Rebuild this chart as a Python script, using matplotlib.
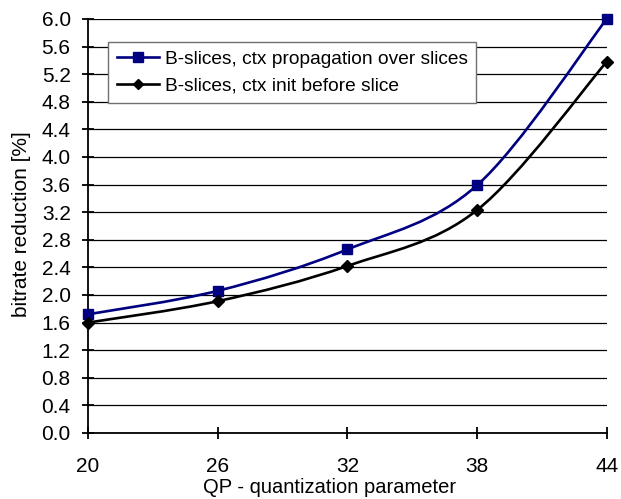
"""Bitrate reduction vs QP for B-slices, two context-handling variants."""
import numpy as np
import matplotlib
matplotlib.use("Agg")
import matplotlib.pyplot as plt
from matplotlib.path import Path
from matplotlib.patches import PathPatch

qp = [20, 26, 32, 38, 44]
ctx_propagation = [1.72, 2.06, 2.66, 3.59, 6.0]
ctx_init = [1.60, 1.91, 2.42, 3.23, 5.38]

labels = [
    "B-slices, ctx propagation over slices",
    "B-slices, ctx init before slice",
]
y_ticks = [round(0.4 * i, 1) for i in range(16)]
x_ticks = qp

plt.rcParams["font.family"] = ["Liberation Sans", "DejaVu Sans"]


def smooth_path(xs, ys):
    """Excel-like smoothed line: Catmull-Rom tangents as cubic Bezier handles."""
    pts = np.column_stack([np.asarray(xs, float), np.asarray(ys, float)])
    n = len(pts)
    verts = [pts[0]]
    codes = [Path.MOVETO]
    for i in range(n - 1):
        p0 = pts[i - 1] if i > 0 else pts[i]
        p1 = pts[i]
        p2 = pts[i + 1]
        p3 = pts[i + 2] if i + 2 < n else pts[i + 1]
        verts += [p1 + (p2 - p0) / 6.0, p2 - (p3 - p1) / 6.0, p2]
        codes += [Path.CURVE4] * 3
    return Path(verts, codes)


fig = plt.figure(figsize=(6.21, 4.99), dpi=100)
ax = fig.add_axes([0.1417, 0.1323, 0.8353, 0.8297])

series = [
    (ctx_propagation, "#000080", "s", 7.5),
    (ctx_init, "#000000", "D", 6),
]
handles = []
for (vals, color, marker, ms), label in zip(series, labels):
    ax.add_patch(PathPatch(smooth_path(qp, vals), fill=False,
                           edgecolor=color, linewidth=1.9, zorder=3))
    ax.plot(qp, vals, linestyle="none", marker=marker, markersize=ms,
            color=color, zorder=4, clip_on=False)
    h, = ax.plot([], [], color=color, linewidth=1.9, marker=marker,
                 markersize=ms - 1)
    handles.append(h)

ax.set_xlim(20, 44)
ax.set_ylim(0, 6.0)
ax.set_xticks(x_ticks)
ax.set_yticks(y_ticks)
ax.set_yticklabels([f"{v:.1f}" for v in y_ticks])
ax.yaxis.grid(True, color="black", linewidth=0.9)
ax.set_axisbelow(True)

for side in ("top", "right"):
    ax.spines[side].set_visible(False)
for side in ("left", "bottom"):
    ax.spines[side].set_linewidth(1.3)
ax.tick_params(axis="both", direction="inout", length=8, width=1.3,
               labelsize=15, colors="black")
ax.tick_params(axis="y", pad=8.5)
ax.tick_params(axis="x", pad=13.5)

ax.set_xlabel("QP - quantization parameter", fontsize=14.5)
ax.xaxis.set_label_coords(0.466, -0.108)
ax.set_ylabel("bitrate reduction [%]", fontsize=15, va="center")
ax.yaxis.set_label_coords(-0.129, 0.505)

leg = ax.legend(handles, labels, loc="upper left",
                bbox_to_anchor=(0.0385, 0.944), fontsize=13.8,
                frameon=True, fancybox=False, handlelength=2.2,
                handletextpad=0.3, borderpad=0.45, labelspacing=0.45,
                borderaxespad=0)
leg.get_frame().set_edgecolor("#707070")
leg.get_frame().set_linewidth(1.0)
leg.get_frame().set_alpha(1.0)

fig.savefig("out.png", dpi=100)
